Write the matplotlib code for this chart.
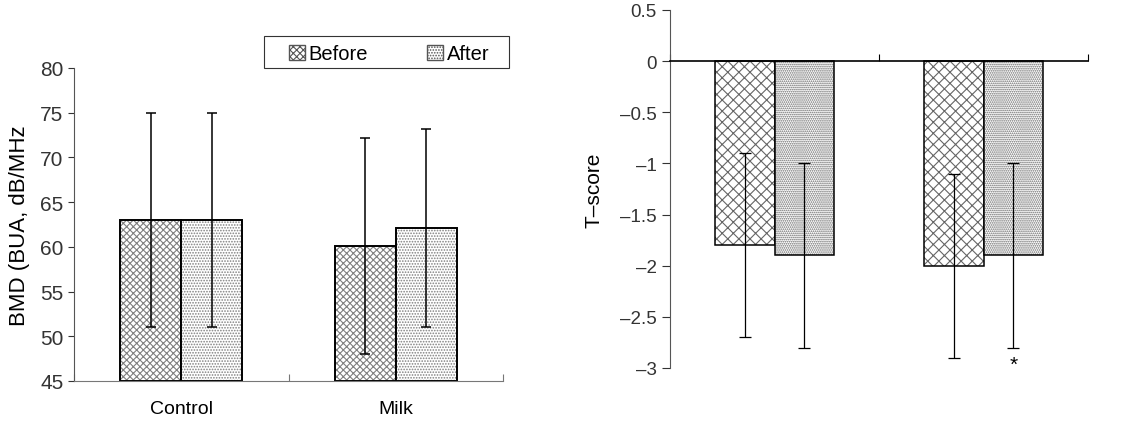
import numpy as np
import matplotlib.pyplot as plt
from matplotlib.patches import Patch, Rectangle

plt.rcParams['font.family'] = ['Liberation Sans', 'DejaVu Sans']
plt.rcParams['hatch.linewidth'] = 0.8

# data
groups = ['Control', 'Milk']
series = ['Before', 'After']

bmd_mean = {'Before': [63.0, 60.1], 'After': [63.0, 62.1]}
bmd_sd = {'Before': [12.0, 12.1], 'After': [12.0, 11.1]}

t_mean = {'Before': [-1.8, -2.0], 'After': [-1.9, -1.9]}
t_sd = {'Before': [0.9, 0.9], 'After': [0.9, 0.9]}

bmd_ticks = [45, 50, 55, 60, 65, 70, 75, 80]
t_ticks = [0.5, 0, -0.5, -1, -1.5, -2, -2.5, -3]
t_tick_labels = ['0.5', '0', '–0.5', '–1', '–1.5', '–2', '–2.5', '–3']

x = np.arange(len(groups)) + 0.5
w = 0.285
offs = {'Before': -w / 2, 'After': w / 2}
hatch_l = {'Before': 'xxxxx', 'After': '......'}
hatch_r = {'Before': 'xxx', 'After': '........'}

fig = plt.figure(figsize=(11.47, 4.27), dpi=100)
ax1 = fig.add_axes([74 / 1147, 1 - 382 / 427, 429 / 1147, 313 / 427])
ax2 = fig.add_axes([670 / 1147, 1 - 369 / 427, 418 / 1147, 358 / 427])

# left panel: BMD
for s in series:
    xs = x + offs[s]
    ax1.bar(xs, np.array(bmd_mean[s]) - 45, w, bottom=45, color='white',
            edgecolor='#808080', hatch=hatch_l[s], lw=0)
    ax1.bar(xs, np.array(bmd_mean[s]) - 45, w, bottom=45, fill=False,
            edgecolor='black', lw=1.4)
    ax1.errorbar(xs, bmd_mean[s], yerr=bmd_sd[s], fmt='none', ecolor='black',
                 elinewidth=1.1, capsize=3.5, capthick=1.1)

ax1.set_xlim(0, 2)
ax1.set_ylim(45, 80)
ax1.set_yticks(bmd_ticks)
ax1.tick_params(axis='y', labelsize=15, direction='out', length=4, colors='#333333')
ax1.set_xticks([0, 1, 2])
ax1.set_xticklabels([])
ax1.tick_params(axis='x', direction='in', length=5, color='#777777')
ax1.set_xticks(x, minor=True)
ax1.set_xticklabels(groups, minor=True, fontsize=14)
ax1.tick_params(axis='x', which='minor', length=0, pad=14)
ax1.set_ylabel('BMD (BUA, dB/MHz', fontsize=16, labelpad=7)
for sp in ['top', 'right']:
    ax1.spines[sp].set_visible(False)
ax1.spines['left'].set_color('#555555')
ax1.spines['bottom'].set_color('#777777')

# legend box drawn separately so it can be wider than its content
fig.patches.append(Rectangle((264 / 1147, 1 - 69 / 427), 245 / 1147, 32 / 427,
                             transform=fig.transFigure, fill=False,
                             edgecolor='#333333', lw=0.8))
handles = [Patch(facecolor='white', edgecolor='#555555', hatch=hatch_l[s], label=s)
           for s in series]
fig.legend(handles=handles, loc='center', ncol=2, frameon=False,
           bbox_to_anchor=(389 / 1147, 1 - 55 / 427),
           fontsize=14.5, handlelength=0.8, handleheight=0.8,
           handletextpad=0.2, columnspacing=2.9, borderpad=0.2)

# right panel: T-score
for s in series:
    xs = x + offs[s]
    ax2.bar(xs, t_mean[s], w, color='white', edgecolor='#666666',
            hatch=hatch_r[s], lw=0)
    ax2.bar(xs, t_mean[s], w, fill=False, edgecolor='black', lw=1.1)
    ax2.errorbar(xs, t_mean[s], yerr=t_sd[s], fmt='none', ecolor='black',
                 elinewidth=0.9, capsize=4, capthick=0.9)

ax2.text(x[1] + offs['After'], t_mean['After'][1] - t_sd['After'][1] - 0.16, '*',
         ha='center', va='center', fontsize=15)

ax2.set_xlim(0, 2)
ax2.set_ylim(-3, 0.5)
ax2.set_yticks(t_ticks)
ax2.set_yticklabels(t_tick_labels)
ax2.tick_params(axis='y', labelsize=13.5, direction='out', length=6, colors='#333333')
ax2.set_xticks([0, 1, 2])
ax2.set_xticklabels([])
ax2.tick_params(axis='x', direction='in', length=5)
ax2.set_ylabel('T–score', fontsize=15, labelpad=12)
for sp in ['top', 'right']:
    ax2.spines[sp].set_visible(False)
ax2.spines['bottom'].set_position(('data', 0))
ax2.spines['bottom'].set_linewidth(1.2)
ax2.spines['left'].set_color('#555555')

fig.savefig('out.png', dpi=100)
